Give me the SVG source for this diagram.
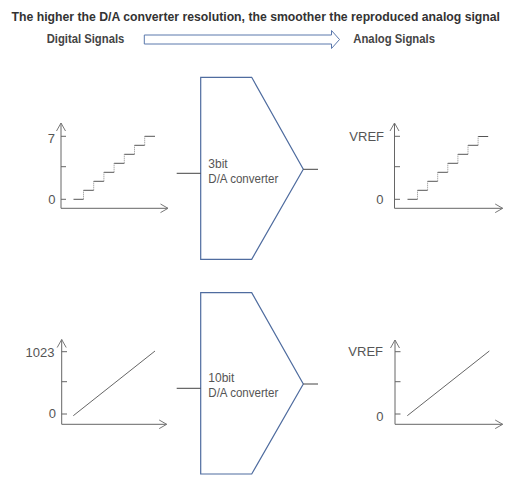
<svg xmlns="http://www.w3.org/2000/svg" width="512" height="479" viewBox="0 0 512 479">
<style>
text{font-family:"Liberation Sans",Arial,sans-serif}
.title{font-size:13px;font-weight:bold;fill:#333}
.hdr{font-size:12px;font-weight:bold;fill:#444}
.lbl{font-size:13px;fill:#555;text-anchor:end}
.cv{font-size:12px;fill:#555}
.ax{fill:none;stroke:#666;stroke-width:1}
.arr{fill:none;stroke:#777;stroke-width:1}
.stair{fill:none;stroke:#555;stroke-width:1}
.riser{fill:none;stroke:#888;stroke-width:1;stroke-dasharray:1 1}
.sig{fill:none;stroke:#666;stroke-width:1}
.conv{fill:#fff;stroke:#4f6c9f;stroke-width:1.2}
.wire{fill:none;stroke:#444;stroke-width:1}
</style>
<rect width="512" height="479" fill="#fff"/>
<g id="title">
<text class="title" x="11.5" y="21" textLength="488.5" lengthAdjust="spacingAndGlyphs">The higher the D/A converter resolution, the smoother the reproduced analog signal</text>
</g>
<g id="header">
<text class="hdr" x="46.7" y="43" textLength="77.6" lengthAdjust="spacingAndGlyphs">Digital Signals</text>
<polygon points="144.3,35 331.5,35 331.5,30.5 339.5,39.5 331.5,48.5 331.5,44 144.3,44" fill="#fff" stroke="#5b78ac" stroke-width="1"/>
<text class="hdr" x="353.3" y="43" textLength="81.7" lengthAdjust="spacingAndGlyphs">Analog Signals</text>
</g>
<g id="chart-digital-3bit">
<path class="ax" d="M61,123 V208.3 H168 M61,136.3 H66 M61,166.7 H66 M61,199.3 H66"/>
<path class="arr" d="M56.5,131 L61,123 L65.5,131 M160.5,204 L168,208.3 L160.5,212.6"/>
<text class="lbl" x="55" y="143">7</text>
<text class="lbl" x="55.5" y="203.5">0</text>
<path class="stair" d="M73.5,199.3 H83.5 M83.5,190.3 H93.7 M93.7,181.3 H103.9 M103.9,172.3 H114.1 M114.1,163.3 H124.3 M124.3,154.3 H134.5 M134.5,145.3 H144.7 M144.7,136.3 H155"/>
<path class="riser" d="M83.5,199.3 V190.3 M93.7,190.3 V181.3 M103.9,181.3 V172.3 M114.1,172.3 V163.3 M124.3,163.3 V154.3 M134.5,154.3 V145.3 M144.7,145.3 V136.3"/>
</g>
<g id="converter-3bit">
<polygon class="conv" points="200.7,77.3 251.7,77.3 303.3,169.3 251.7,259.3 200.7,259.3"/>
<text class="cv" x="208.3" y="167.7">3bit</text>
<text class="cv" x="208.3" y="183.3" textLength="70" lengthAdjust="spacingAndGlyphs">D/A converter</text>
</g>
<g id="chart-analog-3bit">
<path class="ax" d="M394.5,123 V208.3 H502.7 M394.5,136.3 H400 M394.5,166.7 H400 M394.5,199.3 H400"/>
<path class="arr" d="M390,131 L394.5,123 L399,131 M495.2,204 L502.7,208.3 L495.2,212.6"/>
<text class="lbl" x="384" y="140.7">VREF</text>
<text class="lbl" x="383.5" y="203.5">0</text>
<path class="stair" d="M407.5,199.3 H417.5 M417.5,190.3 H427.6 M427.6,181.3 H437.7 M437.7,172.3 H447.8 M447.8,163.3 H457.9 M457.9,154.3 H468 M468,145.3 H478.1 M478.1,136.5 H488.2"/>
<path class="riser" d="M417.5,199.3 V190.3 M427.6,190.3 V181.3 M437.7,181.3 V172.3 M447.8,172.3 V163.3 M457.9,163.3 V154.3 M468,154.3 V145.3 M478.1,145.3 V136.5"/>
</g>
<g id="chart-digital-10bit">
<path class="ax" d="M61.7,339.5 V424.3 H166.7 M61.7,351.7 H67 M61.7,381.7 H67 M61.7,414 H67"/>
<path class="arr" d="M57.2,347.5 L61.7,339.5 L66.2,347.5 M159.2,420 L166.7,424.3 L159.2,428.6"/>
<text class="lbl" x="54.5" y="356.7">1023</text>
<text class="lbl" x="56" y="418">0</text>
<path class="sig" d="M73.3,415.7 L155,351"/>
</g>
<g id="converter-10bit">
<polygon class="conv" points="200.7,292.7 251.7,292.7 303.3,384 251.7,474 200.7,474"/>
<text class="cv" x="208.3" y="381.7">10bit</text>
<text class="cv" x="208.3" y="397" textLength="70" lengthAdjust="spacingAndGlyphs">D/A converter</text>
</g>
<g id="chart-analog-10bit">
<path class="ax" d="M395,340 V424.3 H502.7 M395,351.7 H400.5 M395,381.7 H400.5 M395,414 H400.5"/>
<path class="arr" d="M390.5,348 L395,340 L399.5,348 M495.2,420 L502.7,424.3 L495.2,428.6"/>
<text class="lbl" x="383" y="356">VREF</text>
<text class="lbl" x="383.5" y="421">0</text>
<path class="sig" d="M407.3,415.7 L489.3,351"/>
</g>
<g id="connectors">
<path class="wire" d="M176.7,173.3 H200.7"/>
<path class="wire" d="M303.3,169.3 H318"/>
<path class="wire" d="M176.7,388.3 H200.7"/>
<path class="wire" d="M303.3,384 H318"/>
</g>
</svg>
